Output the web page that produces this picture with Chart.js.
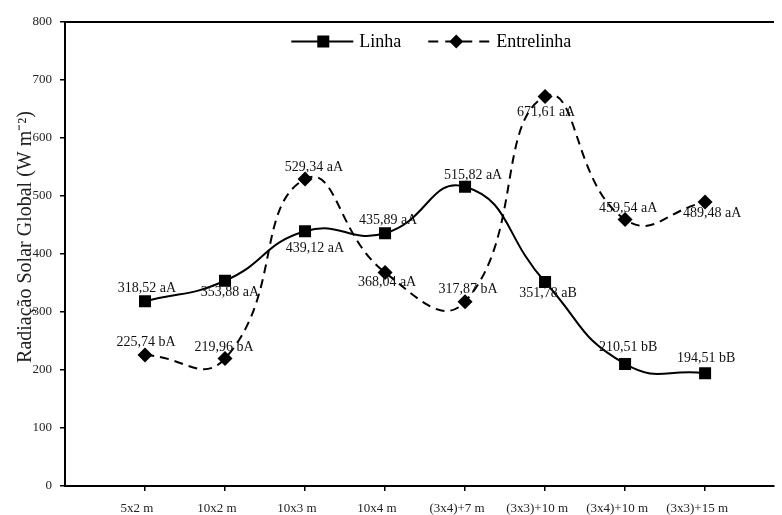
<!DOCTYPE html>
<html>
<head>
<meta charset="utf-8">
<script src="https://cdn.jsdelivr.net/npm/chart.js@4/dist/chart.umd.min.js"></script>
<style>
  html, body { margin: 0; padding: 0; background: #fff; }
  #wrap { width: 782px; height: 515px; }
</style>
</head>
<body>
<div id="wrap"><canvas id="chart" width="782" height="515"></canvas></div>
<script>
// Plant spacing arrangements
const spacings = ['5x2 m', '10x2 m', '10x3 m', '10x4 m', '(3x4)+7 m', '(3x3)+10 m', '(3x4)+10 m', '(3x3)+15 m'];

// Global solar radiation (W m-2) measured in the row and between rows
const linha = [318.52, 353.88, 439.12, 435.89, 515.82, 351.78, 210.51, 194.51];
const entrelinha = [225.74, 219.96, 529.34, 368.04, 317.87, 671.61, 459.54, 489.48];

// Mean comparison letters printed next to each value
const linhaLetters = ['aA', 'aA', 'aA', 'aA', 'aA', 'aB', 'bB', 'bB'];
const entrelinhaLetters = ['bA', 'bA', 'aA', 'aA', 'bA', 'aA', 'aA', 'aA'];

// Y axis ticks
const yTicks = [0, 100, 200, 300, 400, 500, 600, 700, 800];

const yTitle = 'Radiação Solar Global (W m⁻²)';

// Label placement relative to each marker (px)
const linhaLabelOffsets = [[2, -13], [5, 12], [10, 17], [3, -13], [8, -11], [3, 11], [3, -17], [1, -15]];
const entrelinhaLabelOffsets = [[1, -13], [-1, -11], [9, -12], [2, 10], [3, -12], [1, 16], [3, -11], [7, 11]];

const SERIF = '"Liberation Serif", "Times New Roman", serif';

const fmt = (v, letters) => v.toFixed(2).replace('.', ',') + ' ' + letters;
const toPoints = arr => arr.map((v, i) => ({ x: i + 1, y: v }));

// Value labels beside every marker
const valueLabels = {
  id: 'valueLabels',
  afterDatasetsDraw(chart) {
    const ctx = chart.ctx;
    ctx.save();
    ctx.font = '14px ' + SERIF;
    ctx.fillStyle = '#111';
    ctx.textAlign = 'center';
    ctx.textBaseline = 'middle';
    chart.data.datasets.forEach((ds, di) => {
      const meta = chart.getDatasetMeta(di);
      meta.data.forEach((pt, i) => {
        const off = ds.labelOffsets[i];
        ctx.fillText(ds.valueTexts[i], pt.x + off[0], pt.y + off[1]);
      });
    });
    ctx.restore();
  }
};

// Legend inside the plot: line sample with marker, then the series name
const lineLegend = {
  id: 'lineLegend',
  afterDraw(chart) {
    const ctx = chart.ctx;
    const area = chart.chartArea;
    const sampleW = 62, textGap = 6, itemGap = 27;
    ctx.save();
    ctx.font = '18px ' + SERIF;
    const items = chart.data.datasets.map(ds => ({
      text: ds.label,
      dash: ds.borderDash || [],
      style: ds.pointStyle,
      w: sampleW + textGap + ctx.measureText(ds.label).width
    }));
    const total = items.reduce((s, it) => s + it.w, 0) + itemGap * (items.length - 1);
    let x = (area.left + area.right) / 2 + 12 - total / 2;
    const y = area.top + 19.5;
    items.forEach(it => {
      ctx.strokeStyle = '#000';
      ctx.lineWidth = 2;
      ctx.setLineDash(it.dash.length ? [10, 7] : []);
      ctx.beginPath();
      ctx.moveTo(x, y);
      ctx.lineTo(x + sampleW, y);
      ctx.stroke();
      ctx.setLineDash([]);
      ctx.fillStyle = '#000';
      const cx = x + sampleW / 2 + (it.style === 'rect' ? 1 : -3);
      if (it.style === 'rect') {
        ctx.fillRect(cx - 6, y - 6, 12, 12);
      } else {
        ctx.beginPath();
        ctx.moveTo(cx - 7, y); ctx.lineTo(cx, y - 7); ctx.lineTo(cx + 7, y); ctx.lineTo(cx, y + 7);
        ctx.closePath();
        ctx.fill();
      }
      ctx.textAlign = 'left';
      ctx.textBaseline = 'middle';
      ctx.fillText(it.text, x + sampleW + textGap, y + 1);
      x += it.w + itemGap;
    });
    ctx.restore();
  }
};

// Vertical axis title
const axisTitle = {
  id: 'axisTitle',
  afterDraw(chart) {
    const ctx = chart.ctx;
    const area = chart.chartArea;
    ctx.save();
    ctx.font = '20px ' + SERIF;
    ctx.fillStyle = '#222';
    ctx.textAlign = 'center';
    ctx.textBaseline = 'middle';
    ctx.translate(26, (area.top + area.bottom) / 2 - 17);
    ctx.rotate(-Math.PI / 2);
    ctx.fillText(yTitle, 0, 0);
    ctx.restore();
  }
};

const tickFont = { family: SERIF, size: 13 };

new Chart(document.getElementById('chart'), {
  type: 'line',
  data: {
    datasets: [
      {
        label: 'Linha',
        data: toPoints(linha),
        valueTexts: linha.map((v, i) => fmt(v, linhaLetters[i])),
        labelOffsets: linhaLabelOffsets,
        borderColor: '#000',
        backgroundColor: '#000',
        borderWidth: 2,
        tension: 0.5,
        pointStyle: 'rect',
        pointRadius: 8.5,
        pointBorderWidth: 0,
        pointBackgroundColor: '#000'
      },
      {
        label: 'Entrelinha',
        data: toPoints(entrelinha),
        valueTexts: entrelinha.map((v, i) => fmt(v, entrelinhaLetters[i])),
        labelOffsets: entrelinhaLabelOffsets,
        borderColor: '#000',
        backgroundColor: '#000',
        borderWidth: 2,
        borderDash: [9, 6],
        tension: 0.5,
        pointStyle: 'rectRot',
        pointRadius: 7.5,
        pointBorderWidth: 0,
        pointBackgroundColor: '#000'
      }
    ]
  },
  options: {
    responsive: false,
    animation: false,
    devicePixelRatio: 1,
    layout: { padding: { top: 22, right: 0, bottom: 0, left: 0 } },
    plugins: {
      tooltip: { enabled: false },
      legend: { display: false }
    },
    scales: {
      x: {
        type: 'linear',
        position: 'bottom',
        min: 0,
        max: 8.855,
        afterBuildTicks: s => { s.ticks = spacings.map((_, i) => ({ value: i + 1 })); },
        afterFit: s => { s.height = 29; },
        ticks: {
          callback: v => spacings[v - 1],
          autoSkip: false,
          maxRotation: 0,
          labelOffset: -8,
          padding: 10,
          color: '#222',
          font: tickFont
        },
        grid: { drawOnChartArea: false, tickLength: 5, color: '#000', lineWidth: 1.5 },
        border: { display: true, color: '#000', width: 2 }
      },
      xTop: {
        type: 'linear',
        position: 'top',
        min: 0,
        max: 8.855,
        afterFit: s => { s.height = 0; },
        ticks: { display: false },
        grid: { display: false },
        border: { display: true, color: '#000', width: 2 }
      },
      y: {
        min: 0,
        max: 800,
        afterBuildTicks: s => { s.ticks = yTicks.map(v => ({ value: v })); },
        afterFit: s => { s.width = 65; },
        ticks: { padding: 8, color: '#222', font: tickFont },
        grid: { drawOnChartArea: false, tickLength: 5, color: '#000', lineWidth: 1.5 },
        border: { display: true, color: '#000', width: 2 }
      }
    }
  },
  plugins: [valueLabels, lineLegend, axisTitle]
});
</script>
</body>
</html>
